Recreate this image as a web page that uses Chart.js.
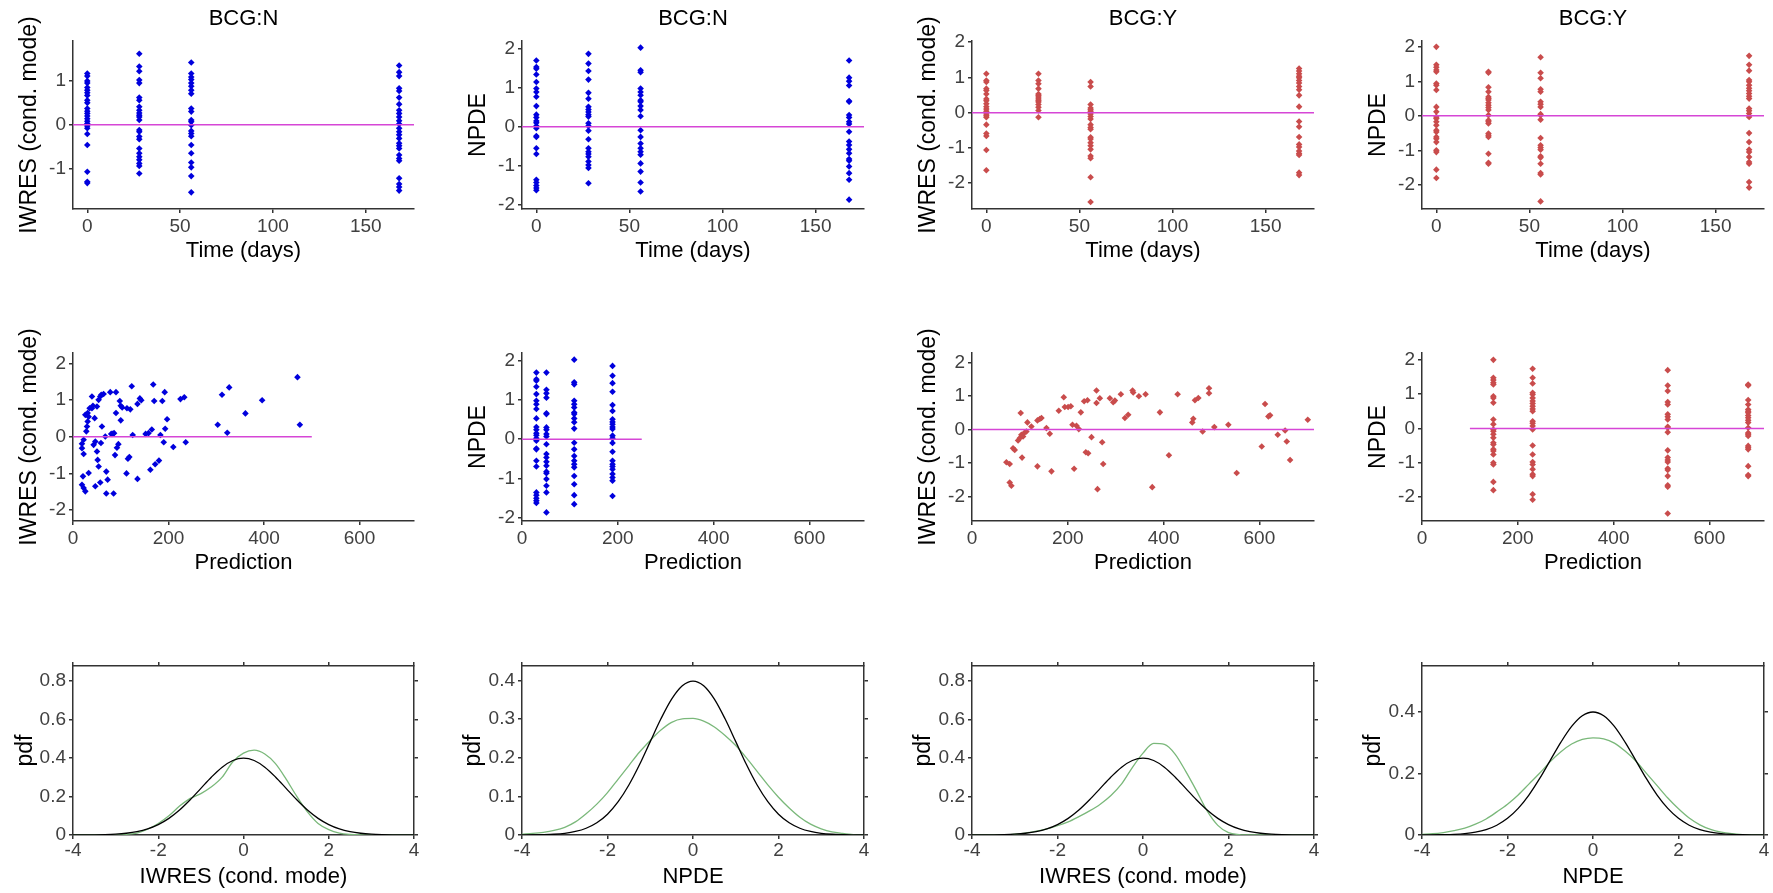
<!DOCTYPE html>
<html>
<head>
<meta charset="utf-8">
<title>Residual diagnostics</title>
<script src="https://cdn.jsdelivr.net/npm/chart.js@4.4.1/dist/chart.umd.min.js"></script>
<style>
html,body{margin:0;padding:0;background:#fff;}
body{width:1773px;height:893px;position:relative;overflow:hidden;}
canvas{position:absolute;}
</style>
</head>
<body>
<script>
// ---------------- DATA ----------------
const timesDays = [0, 28, 56, 168];
const popPredN = [30, 189, 109, 51];     // prediction of each time group, BCG:N
const popPredY = [149, 681, 513, 231];   // prediction of each time group, BCG:Y

const iwresN_d0   = [1.17,1.11,1.0,0.95,0.85,0.79,0.73,0.67,0.56,0.5,0.37,0.31,0.26,0.2,0.14,0.08,0.03,-0.03,-0.08,-0.21,-0.46,-1.07,-1.3,-1.33];
const iwresN_d28  = [1.62,1.33,1.22,1.02,0.95,0.62,0.56,0.41,0.33,0.27,0.22,0.18,0.11,-0.12,-0.16,-0.27,-0.33,-0.54,-0.65,-0.73,-0.8,-0.88,-0.94,-1.11];
const iwresN_d56  = [1.42,1.17,1.09,1.03,0.95,0.88,0.79,0.71,0.37,0.3,0.11,0.07,-0.01,-0.14,-0.2,-0.26,-0.46,-0.65,-0.86,-0.97,-1.17,-1.54];
const iwresN_d168 = [1.35,1.2,1.11,0.83,0.77,0.62,0.47,0.33,0.26,0.18,0.09,0.02,-0.08,-0.16,-0.23,-0.31,-0.42,-0.48,-0.54,-0.69,-0.77,-0.82,-1.22,-1.35,-1.42,-1.5];

const npdeN_d0   = [1.70,1.53,1.49,1.34,1.15,0.98,0.89,0.77,0.53,0.31,0.24,0.15,0.10,0.02,-0.04,-0.24,-0.26,-0.55,-0.7,-1.36,-1.43,-1.51,-1.57,-1.63];
const npdeN_d28  = [1.87,1.62,1.43,1.21,0.87,0.72,0.51,0.44,0.38,0.31,0.26,0.09,0.02,-0.1,-0.32,-0.55,-0.64,-0.7,-0.77,-0.89,-0.98,-1.06,-1.45];
const npdeN_d56  = [2.03,1.45,1.4,0.98,0.89,0.81,0.68,0.64,0.53,0.43,0.27,-0.09,-0.26,-0.43,-0.55,-0.64,-0.72,-0.94,-1.15,-1.43,-1.66];
const npdeN_d168 = [1.70,1.26,1.17,1.06,0.66,0.64,0.30,0.24,0.13,0.07,-0.13,-0.38,-0.47,-0.58,-0.68,-0.83,-0.87,-1.02,-1.19,-1.36,-1.87];

const iwresY_d0   = [1.1,0.91,0.87,0.68,0.63,0.53,0.39,0.34,0.25,0.17,0.1,0.04,-0.04,-0.09,-0.13,-0.34,-0.59,-0.66,-1.06,-1.63];
const iwresY_d28  = [1.1,0.91,0.82,0.68,0.53,0.49,0.44,0.39,0.34,0.3,0.23,0.15,0.06,-0.13];
const iwresY_d56  = [0.87,0.74,0.23,0.13,0.08,0.04,-0.04,-0.11,-0.18,-0.34,-0.42,-0.47,-0.7,-0.75,-0.85,-0.94,-1.04,-1.23,-1.29,-1.83,-2.53];
const iwresY_d168 = [1.25,1.18,1.1,1.03,0.99,0.91,0.84,0.74,0.65,0.49,0.17,-0.25,-0.4,-0.69,-0.9,-0.97,-1.09,-1.16,-1.2,-1.7,-1.77];

const npdeY_d0   = [2.0,1.48,1.41,1.33,1.28,0.94,0.89,0.75,0.26,0.12,-0.03,-0.08,-0.17,-0.27,-0.42,-0.47,-0.61,-0.66,-0.76,-1.0,-1.05,-1.56,-1.8];
const npdeY_d28  = [1.28,1.25,0.83,0.7,0.55,0.5,0.46,0.38,0.31,0.24,0.17,0.02,-0.13,-0.17,-0.22,-0.51,-0.56,-0.61,-1.1,-1.36,-1.39];
const npdeY_d56  = [1.7,1.25,1.09,0.77,0.7,0.41,0.34,0.26,0.05,0.02,-0.11,-0.64,-0.85,-0.92,-0.98,-1.17,-1.21,-1.39,-1.66,-1.7,-2.48];
const npdeY_d168 = [1.74,1.48,1.31,1.04,0.99,0.89,0.8,0.73,0.65,0.57,0.5,0.21,0.15,0.07,-0.03,-0.5,-0.76,-0.98,-1.05,-1.19,-1.34,-1.39,-1.92,-2.08];

// IWRES vs individual prediction, BCG:N
const ipredN   = [18.8,18.8,22.3,22.3,20.9,18.8,22.3,25.8,27.9,29.3,30.7,32.8,30.7,25.8,34.8,39.7,41.8,45.3,32.8,39.7,43.2,46.7,46.7,50.2,51.6,53.7,50.2,53.7,57.1,59.2,64.1,60.6,57.1,58.5,67.6,69.7,72.5,69.7,78,85,80,83,86,90,88,92,95,90,98,100,103,100,112,115,118,113,120,123,125,135,135,140,143,152,158,162,165,168,170,172,180,183,187,190,192,193,197,210,225,233,236,303,312,323,327,361,396,470,475];
const iwresNp  = [-0.31,-0.19,-0.08,-0.47,-1.08,-1.31,-1.40,-1.49,0.15,0.28,0.42,0.55,0.65,0.6,0.78,0.78,0.85,0.51,-0.99,1.10,-0.22,-0.13,-1.35,-0.40,-0.63,-0.81,0.83,1.01,1.10,1.15,1.17,0.28,-1.25,-0.17,0.01,-0.95,-1.17,-1.55,1.22,-1.55,0.08,0.08,0.1,0.65,-0.5,-0.3,-0.2,1.22,0.98,0.85,0.8,0.45,-1.0,-0.6,-0.55,0.78,0.75,1.38,0.05,-1.15,0.9,1.05,1.0,0.08,0.1,-0.9,0.2,1.43,0.98,-0.75,-0.65,0.05,0.98,-0.15,1.22,0.22,0.48,-0.28,1.03,1.08,-0.15,0.33,1.15,0.11,1.35,0.64,1.0,1.63,0.33];

// IWRES vs individual prediction, BCG:Y
const ipredY   = [71.8,78.7,78.7,82.2,85.7,89.2,96.2,99.7,101.7,103.1,104.5,106.6,110.1,113.6,115.7,124,136.6,141.5,145,136.6,155.4,162.4,165.9,181.2,191.6,193.7,200.7,206.3,209.8,213.2,218.1,223,227.2,234.1,237.6,241.1,242.5,249.5,259.9,259.9,262,266.9,271.8,273.9,287.8,294.8,298.3,310.8,319.2,326.1,335.2,336.6,348.4,362.4,376.3,392.3,411.1,429.3,459.9,462,465.5,472.5,481.5,494.8,494.8,505.9,535.2,552.6,604.9,611.8,618.8,622.3,638.3,653.7,657.1,664.1,701];
const iwresYp  = [-0.98,-1.03,-1.58,-1.68,-0.56,-0.61,-0.33,-0.26,0.49,-0.16,-0.84,-0.21,-0.09,-0.06,0.21,0.09,0.27,0.31,0.34,-1.1,0.04,-0.13,-1.25,0.56,0.96,0.67,0.67,0.69,0.14,-1.17,0.11,0.01,0.51,0.84,-0.68,0.87,-0.71,-0.23,1.16,0.79,-1.78,0.93,-0.38,-1.03,0.93,0.81,0.86,1.05,0.34,0.44,1.16,1.1,0.99,1.05,-1.72,0.51,-0.77,1.05,0.21,0.32,0.87,0.94,-0.06,1.23,1.08,0.07,0.14,-1.3,-0.51,0.76,0.39,0.42,-0.16,-0.03,-0.36,-0.91,0.29];

// zero reference lines (x extent)
const zeroTime   = [-7.7, 176];
const zeroPredN1 = [0, 500];
const zeroPredN2 = [0, 250];
const zeroPredY1 = [0, 714];
const zeroPredY2 = [100, 714];

// density curves
const pdfGridX  = [-4,-3.75,-3.5,-3.25,-3,-2.75,-2.5,-2.25,-2,-1.75,-1.5,-1.25,-1,-0.75,-0.5,-0.25,0,0.25,0.5,0.75,1,1.25,1.5,1.75,2,2.25,2.5,2.75,3,3.25,3.5,3.75,4];
const pdfNormal = [0.0001,0.0004,0.0009,0.002,0.0044,0.0091,0.0175,0.0317,0.054,0.0863,0.1295,0.1826,0.242,0.3011,0.3521,0.3867,0.3989,0.3867,0.3521,0.3011,0.242,0.1826,0.1295,0.0863,0.054,0.0317,0.0175,0.0091,0.0044,0.002,0.0009,0.0004,0.0001];
const kdeIwresN = [0,0,0,0,0.001,0.004,0.01,0.03,0.06,0.1,0.15,0.19,0.215,0.25,0.3,0.38,0.425,0.44,0.42,0.37,0.29,0.2,0.12,0.06,0.028,0.01,0.003,0.001,0,0,0,0,0];
const kdeNpdeN  = [0.002,0.004,0.007,0.012,0.02,0.034,0.055,0.08,0.11,0.145,0.18,0.215,0.245,0.272,0.292,0.301,0.302,0.295,0.28,0.258,0.232,0.2,0.165,0.13,0.098,0.07,0.046,0.028,0.016,0.008,0.004,0.001,0];
const kdeIwresY = [0,0,0,0,0.004,0.01,0.02,0.032,0.048,0.068,0.095,0.125,0.16,0.205,0.265,0.35,0.425,0.475,0.47,0.42,0.33,0.23,0.125,0.05,0.012,0.002,0,0,0,0,0,0,0];
const kdeNpdeY  = [0.002,0.004,0.008,0.014,0.022,0.035,0.052,0.075,0.1,0.13,0.165,0.2,0.238,0.27,0.295,0.31,0.315,0.312,0.298,0.272,0.24,0.2,0.16,0.12,0.085,0.055,0.033,0.018,0.009,0.004,0.001,0,0];

// axis labels
const xTitleTime = 'Time (days)';
const xTitlePred = 'Prediction';
const yTitleIwres = 'IWRES (cond. mode)';
const yTitleNpde = 'NPDE';
const yTitlePdf = 'pdf';

// ---------------- RENDERING ----------------
const FONT = "'Liberation Sans', Arial, Helvetica, sans-serif";
const TICK_COLOR = '#404040';
const AXIS_COLOR = '#333333';
const BLUE = '#0000dd';
const RED = '#c94c4c';
const MAGENTA = '#d646d6';
const GREEN = '#7ab87a';

const COLS = [[73,414],[522,864],[972,1314],[1422,1764]];
const ROWS = [[41,209],[353,521],[666,835]];
const TOPPADS = [0, 40, 14];

function groupPoints(xs, groups) {
  const out = [];
  groups.forEach((g, i) => g.forEach(v => out.push({x: xs[i], y: v})));
  return out;
}
function pairPoints(xs, ys) {
  const out = [];
  for (let i = 0; i < Math.min(xs.length, ys.length); i++) out.push({x: xs[i], y: ys[i]});
  return out;
}
function scatterDs(points, color) {
  return {data: points, showLine: false, pointStyle: 'rectRot', pointRadius: 3.3,
          pointBorderWidth: 0, backgroundColor: color, borderColor: color, clip: false};
}
function zeroDs(ext) {
  return {data: [{x: ext[0], y: 0}, {x: ext[1], y: 0}], showLine: true, pointRadius: 0,
          borderColor: MAGENTA, borderWidth: 1.5};
}
function curveDs(ys, color, w) {
  return {data: pairPoints(pdfGridX, ys), showLine: true, pointRadius: 0, borderColor: color,
          borderWidth: w, cubicInterpolationMode: 'monotone'};
}
function zeroPad(s) { s.paddingLeft = 0; s.paddingRight = 0; s.paddingTop = 0; s.paddingBottom = 0; }

function makePanel(o) {
  const WY = 72, HX = 62, PADR = 12, TITLE_H = 41;
  const TOPPAD = TOPPADS[o.row];
  const boxW = o.box ? 5 : 0;
  const [pl, pr] = COLS[o.col];
  const [pt, pb] = ROWS[o.row];
  const topExtra = o.title ? TITLE_H : TOPPAD + boxW;
  const left = pl - WY, top = pt - topExtra;
  const width = (pr - pl) + WY + boxW + PADR;
  const height = (pb - pt) + topExtra + HX;
  const c = document.createElement('canvas');
  c.width = width; c.height = height;
  c.style.left = left + 'px'; c.style.top = top + 'px';
  c.style.width = width + 'px'; c.style.height = height + 'px';
  document.body.appendChild(c);
  const yOff = o.yOff || 43;
  const gridCommon = {display: true, drawOnChartArea: false, drawTicks: true, tickLength: 4, color: AXIS_COLOR, lineWidth: 1.5};
  const borderCommon = {display: true, color: AXIS_COLOR, width: 1.5};
  const scales = {
    x: {
      type: 'linear', position: 'bottom', min: o.x[0], max: o.x[1],
      ticks: {stepSize: o.x[2], includeBounds: false, autoSkip: false, maxRotation: 0, color: TICK_COLOR,
              font: {family: FONT, size: 19, lineHeight: 1.2}, padding: o.row === 2 ? 0.5 : 2.5},
      grid: gridCommon, border: borderCommon,
      title: {display: true, text: o.xTitle, color: '#000', font: {family: FONT, size: 22, lineHeight: 1.2},
              padding: {top: 0, bottom: 7.3}},
      afterFit: s => { s.height = HX; zeroPad(s); }
    },
    y: {
      type: 'linear', position: 'left', min: o.y[0], max: o.y[1],
      ticks: {stepSize: o.y[2], includeBounds: false, autoSkip: false, color: TICK_COLOR,
              font: {family: FONT, size: 19, lineHeight: 1.2}, padding: 3},
      grid: gridCommon, border: borderCommon,
      title: {display: true, text: o.yTitle, color: '#000', font: {family: FONT, size: 23, weight: 'normal', lineHeight: 1.2},
              padding: {top: 72 - 13.8 - yOff, bottom: 0}},
      afterFit: s => { s.width = WY; zeroPad(s); }
    }
  };
  if (o.box) {
    scales.x2 = {
      type: 'linear', position: 'top', min: o.x[0], max: o.x[1],
      ticks: {display: false, stepSize: o.x[2], includeBounds: false},
      grid: gridCommon, border: borderCommon,
      afterFit: s => { s.height = boxW; zeroPad(s); }
    };
    scales.y2 = {
      type: 'linear', position: 'right', min: o.y[0], max: o.y[1],
      ticks: {display: false, stepSize: o.y[2], includeBounds: false},
      grid: gridCommon, border: borderCommon,
      afterFit: s => { s.width = boxW; zeroPad(s); }
    };
  }
  new Chart(c, {
    type: 'scatter',
    data: {datasets: o.datasets},
    options: {
      responsive: false, animation: false, events: [], devicePixelRatio: 1,
      layout: {autoPadding: false, padding: {left: 0, right: PADR, top: o.title ? 0 : TOPPAD, bottom: 0}},
      plugins: {
        legend: {display: false}, tooltip: {enabled: false},
        title: o.title ? {display: true, text: o.title, fullSize: false, color: '#000',
                          font: {family: FONT, size: 22, weight: 'normal', lineHeight: 1.2},
                          padding: {top: 6, bottom: TITLE_H - 6 - 26.4}} : {display: false}
      },
      scales
    }
  });
}

const xTime = [-7.7, 176, 50];
const xPred = [0, 714, 200];
const xRes = [-4, 4, 2];

// Row 1
makePanel({col: 0, row: 0, title: 'BCG:N', x: xTime, y: [-1.92, 1.91, 1], xTitle: xTitleTime, yTitle: yTitleIwres,
  datasets: [zeroDs(zeroTime), scatterDs(groupPoints(timesDays, [iwresN_d0, iwresN_d28, iwresN_d56, iwresN_d168]), BLUE)]});
makePanel({col: 1, row: 0, title: 'BCG:N', x: xTime, y: [-2.11, 2.2, 1], xTitle: xTitleTime, yTitle: yTitleNpde,
  datasets: [zeroDs(zeroTime), scatterDs(groupPoints(timesDays, [npdeN_d0, npdeN_d28, npdeN_d56, npdeN_d168]), BLUE)]});
makePanel({col: 2, row: 0, title: 'BCG:Y', x: xTime, y: [-2.73, 2.03, 1], xTitle: xTitleTime, yTitle: yTitleIwres,
  datasets: [zeroDs(zeroTime), scatterDs(groupPoints(timesDays, [iwresY_d0, iwresY_d28, iwresY_d56, iwresY_d168]), RED)]});
makePanel({col: 3, row: 0, title: 'BCG:Y', x: xTime, y: [-2.7, 2.17, 1], xTitle: xTitleTime, yTitle: yTitleNpde,
  datasets: [zeroDs(zeroTime), scatterDs(groupPoints(timesDays, [npdeY_d0, npdeY_d28, npdeY_d56, npdeY_d168]), RED)]});

// Row 2
makePanel({col: 0, row: 1, x: xPred, y: [-2.3, 2.29, 1], xTitle: xTitlePred, yTitle: yTitleIwres,
  datasets: [zeroDs(zeroPredN1), scatterDs(pairPoints(ipredN, iwresNp), BLUE)]});
makePanel({col: 1, row: 1, x: xPred, y: [-2.09, 2.2, 1], xTitle: xTitlePred, yTitle: yTitleNpde,
  datasets: [zeroDs(zeroPredN2), scatterDs(groupPoints(popPredN, [npdeN_d0, npdeN_d28, npdeN_d56, npdeN_d168]), BLUE)]});
makePanel({col: 2, row: 1, x: xPred, y: [-2.73, 2.28, 1], xTitle: xTitlePred, yTitle: yTitleIwres,
  datasets: [zeroDs(zeroPredY1), scatterDs(pairPoints(ipredY, iwresYp), RED)]});
makePanel({col: 3, row: 1, x: xPred, y: [-2.7, 2.2, 1], xTitle: xTitlePred, yTitle: yTitleNpde,
  datasets: [zeroDs(zeroPredY2), scatterDs(groupPoints(popPredY, [npdeY_d0, npdeY_d28, npdeY_d56, npdeY_d168]), RED)]});

// Row 3
makePanel({col: 0, row: 2, box: true, x: xRes, y: [0, 0.877, 0.2], xTitle: yTitleIwres, yTitle: yTitlePdf, yOff: 47,
  datasets: [curveDs(pdfNormal, '#000', 1.3), curveDs(kdeIwresN, GREEN, 1.3)]});
makePanel({col: 1, row: 2, box: true, x: xRes, y: [0, 0.438, 0.1], xTitle: yTitleNpde, yTitle: yTitlePdf, yOff: 48,
  datasets: [curveDs(pdfNormal, '#000', 1.3), curveDs(kdeNpdeN, GREEN, 1.3)]});
makePanel({col: 2, row: 2, box: true, x: xRes, y: [0, 0.877, 0.2], xTitle: yTitleIwres, yTitle: yTitlePdf, yOff: 48,
  datasets: [curveDs(pdfNormal, '#000', 1.3), curveDs(kdeIwresY, GREEN, 1.3)]});
makePanel({col: 3, row: 2, box: true, x: xRes, y: [0, 0.548, 0.2], xTitle: yTitleNpde, yTitle: yTitlePdf, yOff: 48,
  datasets: [curveDs(pdfNormal, '#000', 1.3), curveDs(kdeNpdeY, GREEN, 1.3)]});
</script>
</body>
</html>
